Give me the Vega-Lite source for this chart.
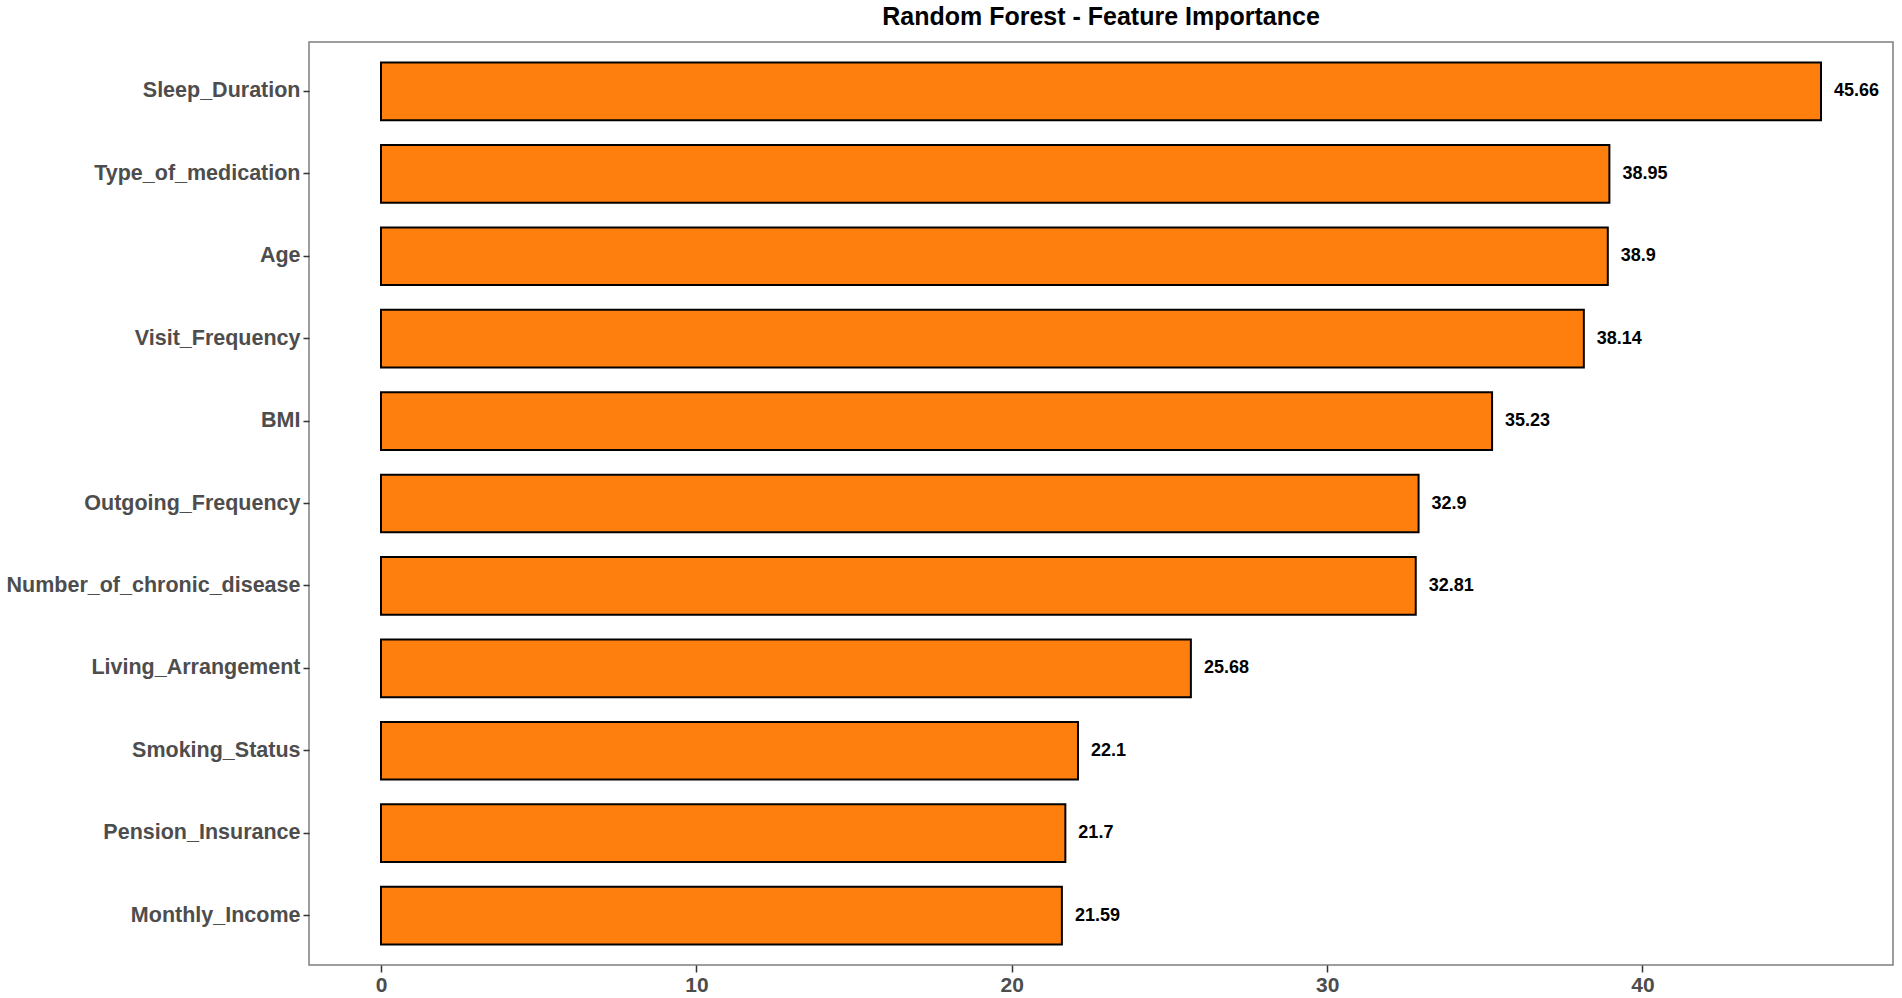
{
  "$schema": "https://vega.github.io/schema/vega-lite/v6.json",
  "autosize": "none",
  "padding": {"left": 309, "top": 42, "right": 9, "bottom": 33},
  "width": 1584,
  "height": 923,
  "background": "white",
  "title": {
    "text": "Random Forest - Feature Importance",
    "font": "Liberation Sans",
    "fontSize": 25,
    "fontWeight": "bold",
    "color": "black",
    "anchor": "middle",
    "baseline": "bottom",
    "offset": 9,
    "dy": 22
  },
  "config": {
    "view": {"stroke": "#7f7f7f", "strokeWidth": 1.5},
    "axis": {"grid": false, "domain": false, "labelFont": "Liberation Sans", "labelFontWeight": "bold", "labelColor": "#4D4D4D", "tickColor": "#333333", "tickWidth": 1.5, "labelLimit": 0}
  },
  "data": {
    "values": [
      {"feature": "Sleep_Duration", "importance": 45.66},
      {"feature": "Type_of_medication", "importance": 38.95},
      {"feature": "Age", "importance": 38.9},
      {"feature": "Visit_Frequency", "importance": 38.14},
      {"feature": "BMI", "importance": 35.23},
      {"feature": "Outgoing_Frequency", "importance": 32.9},
      {"feature": "Number_of_chronic_disease", "importance": 32.81},
      {"feature": "Living_Arrangement", "importance": 25.68},
      {"feature": "Smoking_Status", "importance": 22.1},
      {"feature": "Pension_Insurance", "importance": 21.7},
      {"feature": "Monthly_Income", "importance": 21.59}
    ]
  },
  "encoding": {
    "y": {
      "field": "feature",
      "type": "nominal",
      "sort": {"field": "importance", "order": "descending"},
      "scale": {"paddingInner": 0.3, "paddingOuter": 0.25},
      "axis": {"title": null, "labelFontSize": 21.5, "tickSize": 6, "labelPadding": 3}
    }
  },
  "layer": [
    {
      "mark": {"type": "bar", "color": "#FF7F0E", "stroke": "black", "strokeWidth": 2},
      "encoding": {
        "x": {
          "field": "importance",
          "type": "quantitative",
          "scale": {"domain": [-2.283, 47.943], "nice": false, "zero": false},
          "axis": {"title": null, "values": [0, 10, 20, 30, 40], "labelFontSize": 21, "tickSize": 7, "labelPadding": 2}
        },
        "x2": {"datum": 0}
      }
    },
    {
      "mark": {"type": "text", "align": "left", "baseline": "middle", "dx": 13, "font": "Liberation Sans", "fontWeight": "bold", "fontSize": 18, "color": "black"},
      "encoding": {
        "x": {"field": "importance", "type": "quantitative"},
        "text": {"field": "importance", "type": "quantitative"}
      }
    }
  ]
}
